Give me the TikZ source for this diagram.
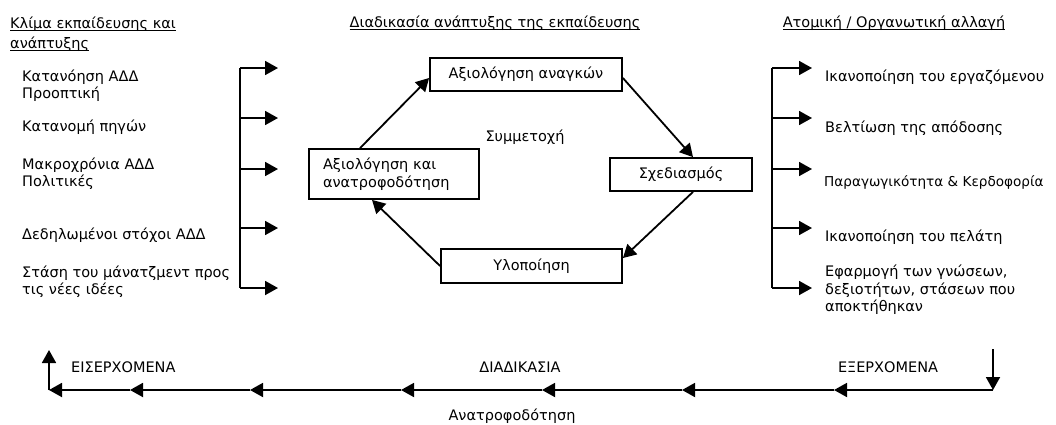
\documentclass[tikz,border=0pt]{standalone}
\usepackage{fontspec}
\setmainfont{DejaVu Sans}
\usetikzlibrary{arrows.meta,calc}
% underline at a fixed depth below the baseline
\newcommand\undl[1]{\leavevmode\setbox0\hbox{#1}\rlap{\rule[-2.4pt]{\wd0}{0.9pt}}\box0}
\begin{document}
\begin{tikzpicture}[x=1pt,y=-1pt,
  every node/.style={font=\fontsize{14.5}{17.5}\selectfont, inner sep=0pt},
  lbl/.style={anchor=west, align=left},
  title/.style={align=left},
  stage/.style={draw, line width=1.8pt, inner sep=0pt, align=center},
  flow/.style={line width=1.8pt, -{Triangle[length=13pt,width=14pt]}},
  rail/.style={line width=1.8pt},
  ]
\useasboundingbox (0,0) rectangle (1056,424);

% column titles
\node[title, anchor=west] (tL) at (10,34) {\undl{Κλίμα εκπαίδευσης και}\\[2pt]\undl{ανάπτυξης}};
\node[title] (tM) at (495,23) {\undl{Διαδικασία ανάπτυξης της εκπαίδευσης}};
\node[title] (tR) at (894,23) {\undl{Ατομική / Οργανωτική αλλαγή}};

% left column: climate factors
\node[lbl] (L1) at (22,85.5) {Κατανόηση ΑΔΔ\\Προοπτική};
\node[lbl] (L2) at (22,127) {Κατανομή πηγών};
\node[lbl] (L3) at (22,173.5) {Μακροχρόνια ΑΔΔ\\Πολιτικές};
\node[lbl] (L4) at (22,235) {Δεδηλωμένοι στόχοι ΑΔΔ};
\node[lbl] (L5) at (22,281.5) {Στάση του μάνατζμεντ προς\\τις νέες ιδέες};

% left bracket
\coordinate (la1) at (240,68);  \coordinate (lb1) at (278,68);
\coordinate (la2) at (240,118); \coordinate (lb2) at (278,118);
\coordinate (la3) at (240,169); \coordinate (lb3) at (278,169);
\coordinate (la4) at (240,228); \coordinate (lb4) at (278,228);
\coordinate (la5) at (240,288); \coordinate (lb5) at (278,288);
\draw[rail] (la1) -- (la5);
\foreach \i in {1,...,5} \draw[flow] (la\i) -- (lb\i);

% training development cycle
\node[stage, minimum width=192pt, minimum height=33pt] (nA) at (526,74.5) {Αξιολόγηση αναγκών};
\node[stage, minimum width=142pt, minimum height=33pt] (nS) at (681,174.5) {Σχεδιασμός};
\node[stage, minimum width=181pt, minimum height=34pt] (nY) at (531.5,266) {Υλοποίηση};
\node[stage, align=left, text width=142pt, inner xsep=14pt, minimum height=50pt] (nE) at (394,174) {Αξιολόγηση και\\ανατροφοδότηση};
\node (sym) at (525,137) {Συμμετοχή};

\draw[flow] ([xshift=-34pt]nE.north) -- ([yshift=-3.5pt]nA.west);
\draw[flow] ([yshift=-3.5pt]nA.east) -- ([xshift=12pt]nS.north);
\draw[flow] ([xshift=12pt]nS.south) -- ([yshift=8pt]nY.east);
\draw[flow] (nY.west) -- ([xshift=-22pt]nE.south);

% right bracket
\coordinate (ra1) at (772,68);  \coordinate (rb1) at (812,68);
\coordinate (ra2) at (772,118); \coordinate (rb2) at (812,118);
\coordinate (ra3) at (772,169); \coordinate (rb3) at (812,169);
\coordinate (ra4) at (772,228); \coordinate (rb4) at (812,228);
\coordinate (ra5) at (772,288); \coordinate (rb5) at (812,288);
\draw[rail] (ra1) -- (ra5);
\foreach \i in {1,...,5} \draw[flow] (ra\i) -- (rb\i);

% right column: outcomes
\node[lbl] (R1) at (825,77) {Ικανοποίηση του εργαζόμενου};
\node[lbl] (R2) at (825,128) {Βελτίωση της απόδοσης};
\node[lbl, font=\fontsize{13.6}{17.5}\selectfont] (R3) at (824,182) {Παραγωγικότητα \& Κερδοφορία};
\node[lbl] (R4) at (825,237) {Ικανοποίηση του πελάτη};
\node[lbl] (R5) at (825,290) {Εφαρμογή των γνώσεων,\\δεξιοτήτων, στάσεων που\\αποκτήθηκαν};

% bottom feedback line
\coordinate (q0) at (993,349);
\coordinate (p0) at (993,390);
\coordinate (p1) at (834,390);
\coordinate (p2) at (682,390);
\coordinate (p3) at (542,390);
\coordinate (p4) at (401,390);
\coordinate (p5) at (250,390);
\coordinate (p6) at (130,390);
\coordinate (p7) at (49,390);
\coordinate (q7) at (49,350);
\draw[flow] (q0) -- (p0);
\draw[flow] (p0) -- (p1);
\draw[flow] (p1) -- (p2);
\draw[flow] (p2) -- (p3);
\draw[flow] (p3) -- (p4);
\draw[flow] (p4) -- (p5);
\draw[flow] (p5) -- (p6);
\draw[flow] (p6) -- (p7);
\draw[flow] (p7) -- (q7);

\node[anchor=west] (in) at (71,367) {ΕΙΣΕΡΧΟΜΕΝΑ};
\node (proc) at (520,367) {ΔΙΑΔΙΚΑΣΙΑ};
\node (out) at (888,367) {ΕΞΕΡΧΟΜΕΝΑ};
\node (fb) at (512,416) {Ανατροφοδότηση};
\end{tikzpicture}
\end{document}
